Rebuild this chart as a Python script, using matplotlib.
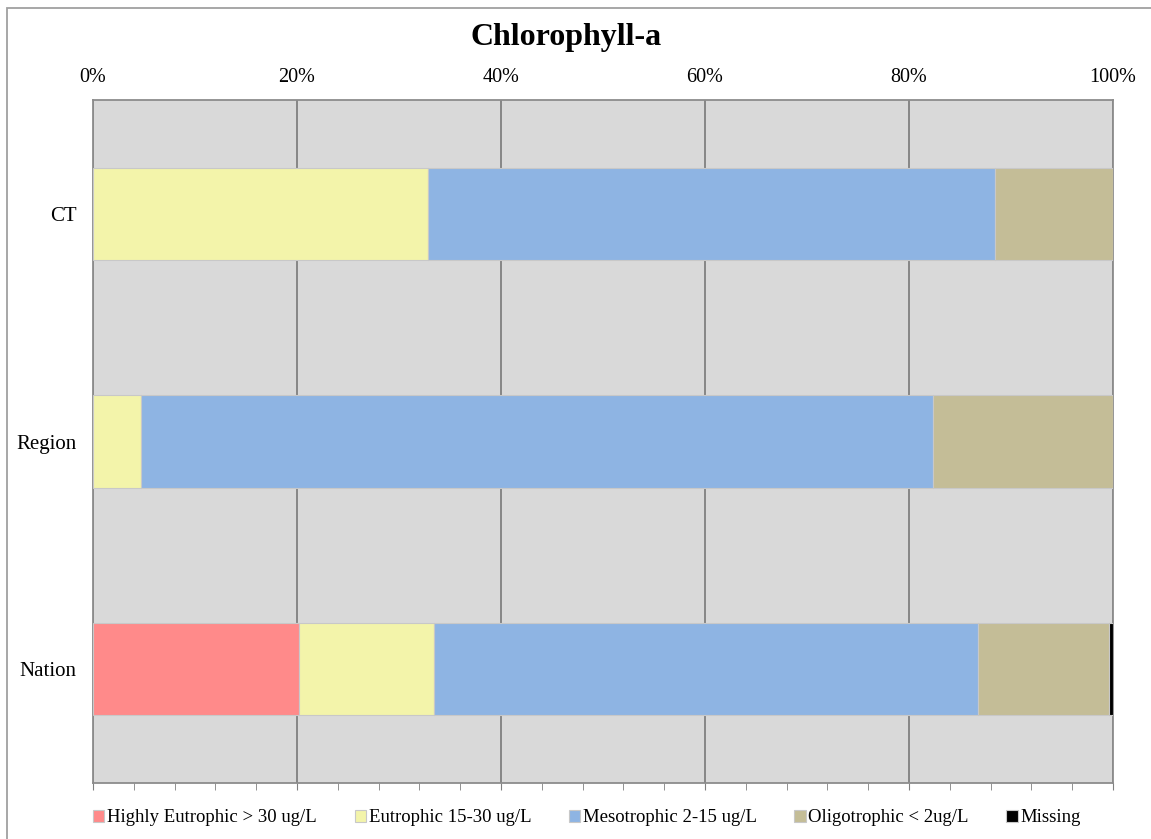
import numpy as np
import matplotlib.pyplot as plt
from matplotlib.patches import Rectangle
from matplotlib.ticker import MultipleLocator, PercentFormatter

plt.rcParams['font.family'] = ['Liberation Serif', 'DejaVu Serif']

# shares in percent
places = ["CT", "Region", "Nation"]
categories = ["Highly Eutrophic > 30 ug/L", "Eutrophic 15-30 ug/L",
              "Mesotrophic 2-15 ug/L", "Oligotrophic < 2ug/L", "Missing"]
highly = [0.0, 0.0, 20.2]
eutrophic = [32.8, 4.7, 13.2]
mesotrophic = [55.6, 77.7, 53.4]
oligotrophic = [11.6, 17.6, 12.8]
missing = [0.0, 0.0, 0.4]
colors = ["#ff8a8a", "#f3f4aa", "#8eb4e3", "#c4bd97", "#000000"]

series = [highly, eutrophic, mesotrophic, oligotrophic, missing]

fig = plt.figure(figsize=(11.51, 8.39), dpi=100)
ax = fig.add_axes([93 / 1151, 1 - 783 / 839, (1113 - 93) / 1151, (783 - 100) / 839])
ax.set_facecolor("#d9d9d9")

y = np.arange(len(places))
left = np.zeros(len(places))
for vals, lab, col in zip(series, categories, colors):
    ax.barh(y, vals, left=left, height=0.405, color=col, label=lab,
            edgecolor="#c8c8c8", linewidth=0.8, zorder=3)
    left += np.array(vals)

ax.set_xlim(0, 100)
ax.set_ylim(2.5, -0.5)
ax.set_yticks(y)
ax.set_yticklabels(places, fontsize=15)
ax.xaxis.set_major_locator(MultipleLocator(20))
ax.xaxis.set_minor_locator(MultipleLocator(4))
ax.xaxis.set_major_formatter(PercentFormatter(decimals=0))
ax.tick_params(axis="x", which="both", top=False, bottom=True, labeltop=True,
               labelbottom=False, direction="out", length=5, color="#808080",
               labelsize=14.5, pad=4)
ax.tick_params(axis="y", length=0, pad=12)
ax.grid(axis="x", which="major", color="#808080", linewidth=1.3, zorder=1)
for s in ax.spines.values():
    s.set_color("#8c8c8c")
    s.set_linewidth(1.3)

fig.text(566 / 1151, 1 - 38 / 839, "Chlorophyll-a", ha="center", va="center",
         fontsize=23, fontweight="bold")

handles, labels = ax.get_legend_handles_labels()
fig.legend(handles, labels, loc="center", bbox_to_anchor=(0.51, 1 - 818 / 839),
           ncol=5, frameon=False, fontsize=13.5, handlelength=0.6, handleheight=0.6,
           handletextpad=0.15, columnspacing=2.0)

# outer chart border
fig.patches.append(Rectangle((7 / 1151, -0.05), 1.1, 1 - 8 / 839 + 0.05,
                             transform=fig.transFigure, fill=False,
                             edgecolor="#a0a0a0", linewidth=1.3))

fig.savefig("out.png", dpi=100)
